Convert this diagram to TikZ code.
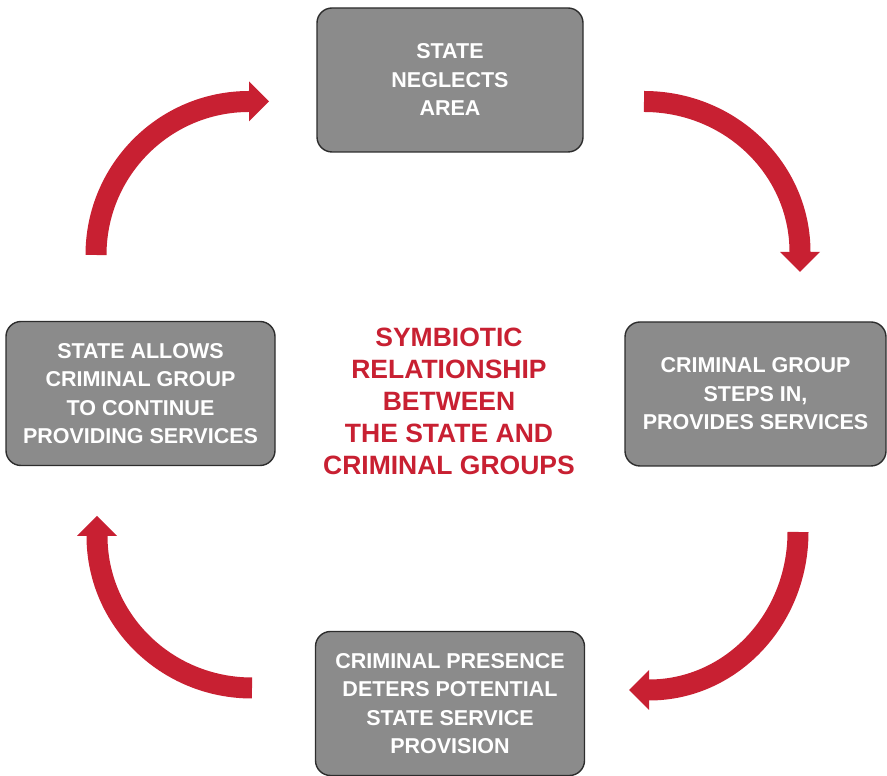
\documentclass[tikz,border=0pt]{standalone}
\usepackage{fontspec}
\setmainfont{Liberation Sans}
\definecolor{boxgray}{RGB}{139, 139, 139}
\definecolor{boxedge}{RGB}{45, 45, 45}
\definecolor{cycred}{RGB}{200, 32, 50}
\usetikzlibrary{arrows.meta, positioning}

\begin{document}
\begin{tikzpicture}[
  x=1pt, y=1pt,
  sbox/.style={draw=boxedge, line width=1.4pt, fill=boxgray, rounded corners=15pt, align=center, text=white, inner sep=4pt, font=\fontsize{21.5}{28.5}\selectfont\bfseries, minimum width=266pt, minimum height=144pt},
  cyc/.style={draw=cycred, line width=21pt, -{Triangle[length=20pt, width=40pt, line width=0pt]}}
]
  \useasboundingbox (0,0) rectangle (887,776);
  \node[sbox] (neglect) at (450, 696) {STATE\\NEGLECTS\\AREA};
  \node[sbox, minimum width=261pt] (stepin) at (755.5, 382) {CRIMINAL GROUP\\STEPS IN,\\PROVIDES SERVICES};
  \node[sbox, minimum width=269pt] (deter) at (450, 72.5) {CRIMINAL PRESENCE\\DETERS POTENTIAL\\STATE SERVICE\\PROVISION};
  \node[sbox, minimum width=269pt] (allow) at (140.5, 382.5) {STATE ALLOWS\\CRIMINAL GROUP\\TO CONTINUE\\PROVIDING SERVICES};
  \node[text=cycred, align=center, font=\fontsize{26.5}{32}\selectfont\bfseries] (title) at (449, 375)
    {SYMBIOTIC\\RELATIONSHIP\\BETWEEN\\THE STATE AND\\CRIMINAL GROUPS};

  \coordinate (tl) at (96, 521);
  \coordinate (tr) at (644, 674.5);
  \coordinate (br) at (798, 244);
  \coordinate (bl) at (252, 88);
  \draw[cyc] (tl) arc[start angle=180, end angle=90, x radius=153pt, y radius=153.5pt] -- ++(20pt, 0);
  \draw[cyc] (tr) arc[start angle=90, end angle=0, x radius=156pt, y radius=150.5pt] -- ++(0, -20pt);
  \draw[cyc] (br) arc[start angle=0, end angle=-90, x radius=149pt, y radius=158pt] -- ++(-20pt, 0);
  \draw[cyc] (bl) arc[start angle=270, end angle=180, x radius=155pt, y radius=152pt] -- ++(0, 20pt);
\end{tikzpicture}
\end{document}
